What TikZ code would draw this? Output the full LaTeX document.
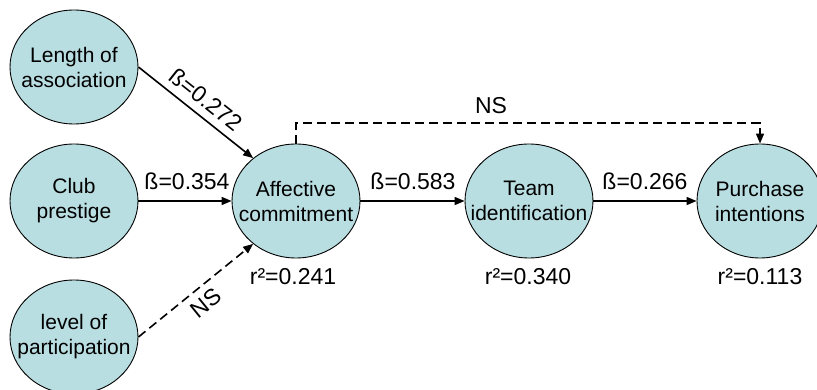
\documentclass[tikz,border=0pt]{standalone}
\usepackage{fontspec}
\setmainfont{Liberation Sans}
\usetikzlibrary{shapes.geometric,arrows.meta}
\definecolor{bubble}{RGB}{185,222,225}
\tikzset{
  construct/.style={ellipse,draw=black,line width=0.9pt,fill=bubble,
    minimum width=128pt,minimum height=114pt,inner sep=0pt},
  caption/.style={align=center,inner sep=0pt,
    font=\fontsize{21}{25}\selectfont},
  path/.style={line width=1.6pt,-{Triangle[length=10pt,width=8pt]}},
  nspath/.style={path,dash pattern=on 9pt off 5pt},
  coef/.style={font=\fontsize{23}{27}\selectfont,inner sep=2pt}
}
\begin{document}
\begin{tikzpicture}[x=1pt,y=-1pt]
\useasboundingbox (0,0) rectangle (817,390);
% constructs
\node[construct] (len) at (74,67) {};
\node[construct] (club) at (74,201) {};
\node[construct] (lvl) at (74,337) {};
\node[construct] (aff) at (296,201) {};
\node[construct] (team) at (529,201) {};
\node[construct,minimum width=126pt] (pur) at (760,201) {};
\node[caption] (lenT) at (len) {Length of\\association};
\node[caption] (clubT) at (club) {Club\\prestige};
\node[caption] (lvlT) at (lvl) {level of\\participation};
\node[caption] (affT) at (aff) {Affective\\commitment};
\node[caption] (teamT) at (team) {Team\\identification};
\node[caption] (purT) at (pur) {Purchase\\intentions};

% paths
\draw[path] (len.east) -- node[coef,sloped,above=5pt] {ß=0.272} (aff.135);
\draw[path] (club.east) -- (aff.west);
\draw[nspath] (lvl.east) -- node[coef,sloped,below=5pt] {NS} (aff.225);
\draw[path] (aff.east) -- (team.west);
\draw[path] (team.east) -- (pur.west);
\coordinate (up1) at (aff.north |- 0,123);
\coordinate (up2) at (pur.north |- 0,123);
\draw[nspath] (aff.north) -- (up1) -- (up2) -- (pur.north);

% coefficients
\node[coef] (nstop) at (491,106) {NS};
\node[coef] (b354) at (187,181) {ß=0.354};
\node[coef] (b583) at (413,181) {ß=0.583};
\node[coef] (b266) at (645,181) {ß=0.266};
\node[coef] (r241) at (293,277) {r²=0.241};
\node[coef] (r340) at (528,277) {r²=0.340};
\node[coef] (r113) at (760,277) {r²=0.113};
\end{tikzpicture}
\end{document}
